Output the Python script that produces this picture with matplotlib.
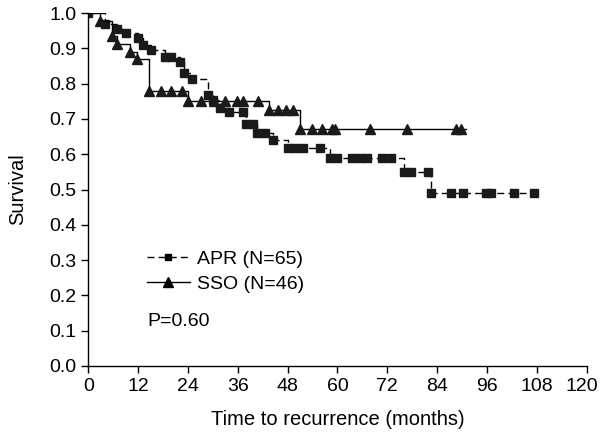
import matplotlib
matplotlib.use("Agg")
import matplotlib.pyplot as plt
import matplotlib.transforms as mtransforms

plt.rcParams['font.family'] = ['Liberation Sans', 'DejaVu Sans']

# APR group (dashed, squares)
apr_t = [0, 4.0, 6.9, 9.1, 11.9, 13.1, 15.1, 18.4, 19.9, 22.0, 23.0, 24.9,
         28.8, 30.0, 31.7, 33.8, 37.2, 37.9, 39.6, 40.6, 42.5, 44.4,
         48.0, 49.7, 51.6, 55.7, 58.2, 60.0, 63.4, 65.3, 67.2, 70.8, 72.8,
         76.1, 77.8, 81.7, 82.6, 87.4, 90.1, 95.8, 97.0, 102.5, 107.4]
apr_s = [1.0, 0.969, 0.955, 0.943, 0.929, 0.909, 0.895, 0.875, 0.875, 0.861, 0.830, 0.813,
         0.768, 0.754, 0.731, 0.720, 0.720, 0.686, 0.686, 0.660, 0.660, 0.640,
         0.618, 0.618, 0.618, 0.618, 0.589, 0.589, 0.589, 0.589, 0.589, 0.589, 0.589,
         0.550, 0.550, 0.550, 0.490, 0.490, 0.490, 0.490, 0.490, 0.490, 0.490]
apr_end = 108.5

# SSO group (solid, triangles)
sso_t = [0, 2.8, 5.7, 7.0, 10.0, 11.7, 14.6, 17.5, 19.9, 22.5,
         23.9, 27.1, 30.2, 32.9, 35.7, 37.2, 40.8,
         43.5, 45.6, 47.7, 49.2,
         50.9, 53.8, 56.2, 58.6, 59.3, 67.9, 76.8, 88.6, 89.8]
sso_s = [1.0, 0.978, 0.935, 0.913, 0.891, 0.870, 0.778, 0.778, 0.778, 0.778,
         0.752, 0.752, 0.752, 0.752, 0.752, 0.752, 0.752,
         0.725, 0.725, 0.725, 0.725,
         0.671, 0.671, 0.671, 0.671, 0.671, 0.671, 0.671, 0.671, 0.671]
sso_end = 91.0

x_ticks = list(range(0, 121, 12))
y_ticks = [i / 10 for i in range(11)]

fig = plt.figure(figsize=(6, 4.37), dpi=100)
ax = fig.add_axes([0.147, 0.1625, 0.831, 0.8075])

dash = (0, (5, 3))
ax.step(apr_t + [apr_end], apr_s + [apr_s[-1]], where='post', color='black',
        lw=1.0, linestyle=dash)
ax.plot(apr_t, apr_s, ls='none', marker='s', ms=5.5, color='#1a1a1a')
ax.step(sso_t + [sso_end], sso_s + [sso_s[-1]], where='post', color='black', lw=1.0)
ax.plot(sso_t[1:], sso_s[1:], ls='none', marker='^', ms=7, color='#1a1a1a')

# legend handles
ax.plot([], [], color='black', lw=1.0, linestyle=dash, marker='s', ms=5,
        label='APR (N=65)')
ax.plot([], [], color='black', lw=1.0, marker='^', ms=7, label='SSO (N=46)')
ax.legend(loc='upper left', bbox_to_anchor=(0.118, 0.327), frameon=False,
          fontsize=14, handlelength=2.2, handletextpad=0.35, labelspacing=0.38,
          borderpad=0, borderaxespad=0, numpoints=1)

ax.text(14.2, 0.125, 'P=0.60', fontsize=14, va='center', ha='left')

ax.set_xlim(0, 120)
ax.set_ylim(0, 1.0)
ax.set_xticks(x_ticks)
ax.set_yticks(y_ticks)
ax.set_yticklabels(['%.1f' % v for v in y_ticks])
ax.tick_params(direction='out', length=5, width=1, labelsize=14, color='black')
for side in ['top', 'right']:
    ax.spines[side].set_visible(False)
for side in ['left', 'bottom']:
    ax.spines[side].set_linewidth(1)
ax.set_xlabel('Time to recurrence (months)', fontsize=14.5, labelpad=11)
ax.set_ylabel('Survival', fontsize=14.5, labelpad=16)
ax.margins(0)
for sp in ax.spines.values():
    sp.set_clip_on(False)

# keep the last x label inside the picture
last = ax.get_xticklabels()[-1]
last.set_transform(last.get_transform() +
                   mtransforms.ScaledTranslation(-5 / 100, 0, fig.dpi_scale_trans))

plt.savefig('out.png', dpi=100)
